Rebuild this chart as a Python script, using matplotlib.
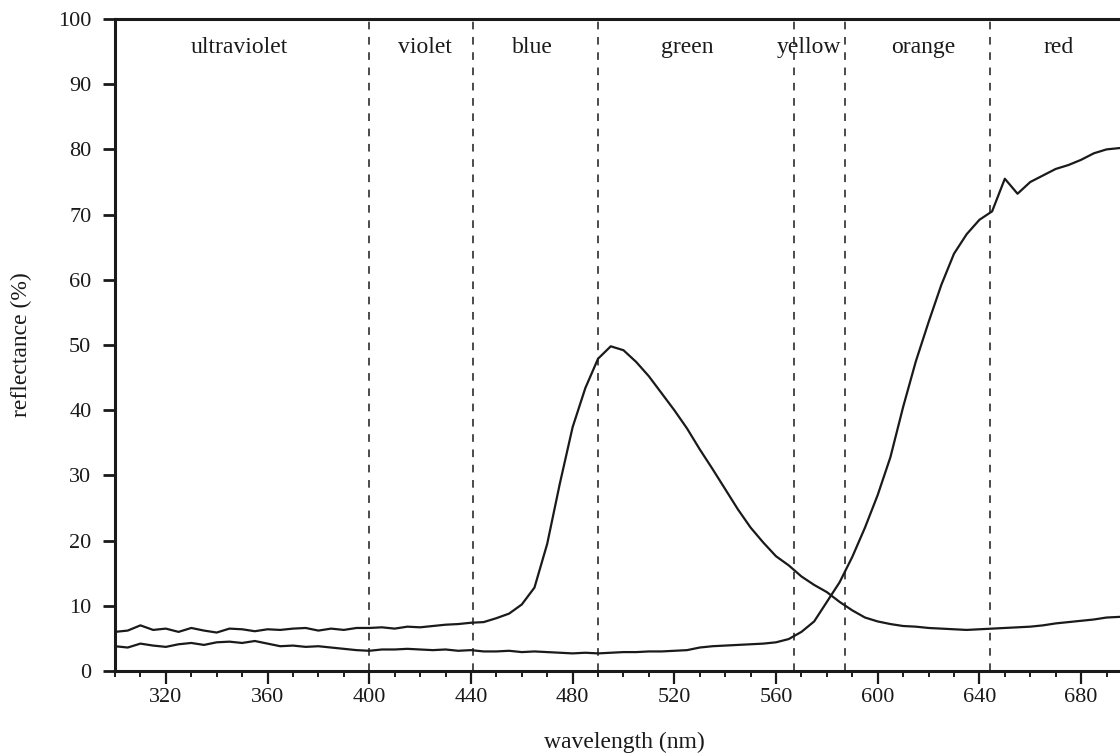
import matplotlib
matplotlib.use('Agg')
import matplotlib.pyplot as plt
from matplotlib.ticker import MultipleLocator

# wavelength grid (nm)
wavelength = [300, 305, 310, 315, 320, 325, 330, 335, 340, 345,
              350, 355, 360, 365, 370, 375, 380, 385, 390, 395,
              400, 405, 410, 415, 420, 425, 430, 435, 440, 445,
              450, 455, 460, 465, 470, 475, 480, 485, 490, 495,
              500, 505, 510, 515, 520, 525, 530, 535, 540, 545,
              550, 555, 560, 565, 570, 575, 580, 585, 590, 595,
              600, 605, 610, 615, 620, 625, 630, 635, 640, 645,
              650, 655, 660, 665, 670, 675, 680, 685, 690, 695]

# curve peaking in the green
refl_green = [6.0, 6.2, 7.0, 6.3, 6.5, 6.0, 6.6, 6.2, 5.9, 6.5,
              6.4, 6.1, 6.4, 6.3, 6.5, 6.6, 6.2, 6.5, 6.3, 6.6,
              6.6, 6.7, 6.5, 6.8, 6.7, 6.9, 7.1, 7.2, 7.4, 7.5,
              8.1, 8.8, 10.2, 12.8, 19.5, 28.8, 37.4, 43.4, 47.9, 49.8,
              49.2, 47.4, 45.2, 42.6, 40.0, 37.2, 34.0, 31.0, 27.9, 24.8,
              22.0, 19.7, 17.6, 16.2, 14.5, 13.2, 12.1, 10.6, 9.3, 8.2,
              7.6, 7.2, 6.9, 6.8, 6.6, 6.5, 6.4, 6.3, 6.4, 6.5,
              6.6, 6.7, 6.8, 7.0, 7.3, 7.5, 7.7, 7.9, 8.2, 8.3]

# curve rising into the red
refl_red = [3.8, 3.6, 4.2, 3.9, 3.7, 4.1, 4.3, 4.0, 4.4, 4.5,
            4.3, 4.6, 4.2, 3.8, 3.9, 3.7, 3.8, 3.6, 3.4, 3.2,
            3.1, 3.3, 3.3, 3.4, 3.3, 3.2, 3.3, 3.1, 3.2, 3.0,
            3.0, 3.1, 2.9, 3.0, 2.9, 2.8, 2.7, 2.8, 2.7, 2.8,
            2.9, 2.9, 3.0, 3.0, 3.1, 3.2, 3.6, 3.8, 3.9, 4.0,
            4.1, 4.2, 4.4, 4.9, 6.0, 7.6, 10.6, 13.6, 17.5, 22.0,
            27.0, 32.8, 40.5, 47.5, 53.5, 59.2, 64.0, 67.0, 69.2, 70.5,
            75.5, 73.2, 75.0, 76.0, 77.0, 77.6, 78.4, 79.4, 80.0, 80.2]

# colour band boundaries and labels
band_edges = [400, 441, 490, 567, 587, 644]
band_names = ['ultraviolet', 'violet', 'blue', 'green', 'yellow', 'orange', 'red']
band_label_x = [349, 422, 464, 525, 573, 618, 671]

ink = '#1a1a1a'
plt.rcParams['font.family'] = ['Liberation Serif', 'DejaVu Serif']

fig = plt.figure(figsize=(11.2, 7.55), dpi=100)
ax = fig.add_axes([115 / 1120, 1 - 671 / 755, 1005 / 1120, 652 / 755])

ax.plot(wavelength, refl_green, color=ink, lw=1.6)
ax.plot(wavelength, refl_red, color=ink, lw=1.6)

for edge in band_edges:
    ax.axvline(edge, color=ink, lw=1.1, linestyle=(0, (5, 5)))

for name, xpos in zip(band_names, band_label_x):
    ax.text(xpos, 0.957, name, transform=ax.get_xaxis_transform(),
            ha='center', va='center', fontsize=17, color=ink)

ax.set_xlim(300, 695.3)
ax.set_ylim(0, 100)

ax.xaxis.set_minor_locator(MultipleLocator(10))
ax.set_xticks([320, 360, 400, 440, 480, 520, 560, 600, 640, 680])
ax.set_yticks(range(0, 101, 10))

ax.tick_params(axis='both', which='major', direction='out', colors=ink,
               labelsize=16)
ax.tick_params(axis='y', which='major', length=9, width=2.0, pad=8)
ax.tick_params(axis='x', which='major', length=9, width=1.6, pad=3)
ax.tick_params(axis='x', which='minor', direction='out', length=4.5,
               width=1.4, colors=ink)

ax.spines['right'].set_visible(False)
for side in ['left', 'bottom', 'top']:
    ax.spines[side].set_linewidth(2.2)
    ax.spines[side].set_color(ink)

ax.set_xlabel('wavelength (nm)', fontsize=17, color=ink)
ax.set_ylabel('reflectance (%)', fontsize=17, color=ink)
ax.xaxis.set_label_coords(0.507, -0.094)
ax.yaxis.set_label_coords(-0.083, 0.5)

fig.savefig('out.png', dpi=100)
